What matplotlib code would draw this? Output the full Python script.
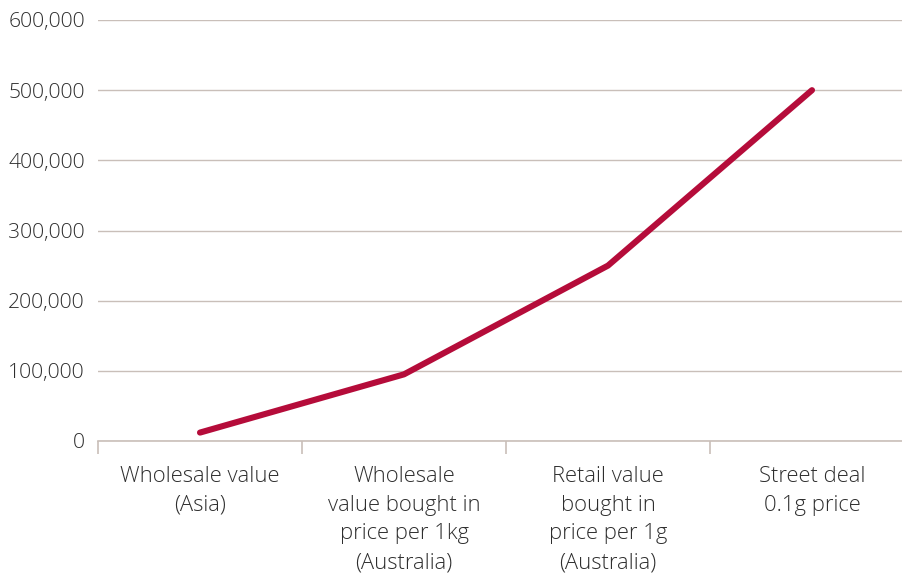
import matplotlib
matplotlib.use("Agg")
import matplotlib.pyplot as plt
from matplotlib.ticker import FuncFormatter, FixedLocator

categories = ["Wholesale value\n(Asia)",
              "Wholesale\nvalue bought in\nprice per 1kg\n(Australia)",
              "Retail value\nbought in\nprice per 1g\n(Australia)",
              "Street deal\n0.1g price"]
values = [12000, 95000, 250000, 500000]
yticks = [0, 100000, 200000, 300000, 400000, 500000, 600000]

plt.rcParams['font.family'] = ['Open Sans', 'DejaVu Sans']
text_color = "#2e2e2e"
grid_color = "#c9bfb9"
line_color = "#b50c3a"

fig = plt.figure(figsize=(9.03, 5.74), dpi=100)
ax = fig.add_axes([98/903, 1-441/574, 816/903, 421/574])

x = list(range(len(values)))
ax.plot(x, values, color=line_color, linewidth=4.4, solid_capstyle='round', solid_joinstyle='round', zorder=3)

ax.set_xlim(-0.5, len(values) - 0.5)
ax.set_ylim(0, 600000)
ax.set_yticks(yticks)
ax.yaxis.set_major_formatter(FuncFormatter(lambda v, p: f"{int(v):,}"))
ax.grid(axis='y', color=grid_color, linewidth=1.0, zorder=0)
for s in ['top', 'right', 'left']:
    ax.spines[s].set_visible(False)
ax.spines['bottom'].set_color(grid_color)
ax.spines['bottom'].set_linewidth(1.2)

ax.set_xticks(x)
ax.set_xticklabels(categories)
ax.xaxis.set_minor_locator(FixedLocator([i - 0.5 for i in range(len(values) + 1)]))
ax.tick_params(axis='x', which='major', length=0, pad=18, labelsize=15.8, labelcolor=text_color)
ax.tick_params(axis='x', which='minor', length=9, width=1.2, color=grid_color)
ax.tick_params(axis='y', length=0, pad=9.5, labelsize=15.2, labelcolor=text_color)
for lab in ax.get_xticklabels() + ax.get_yticklabels():
    lab.set_fontweight('light')
for lab in ax.get_xticklabels():
    lab.set_linespacing(1.48)

fig.savefig("out.png", dpi=100)
